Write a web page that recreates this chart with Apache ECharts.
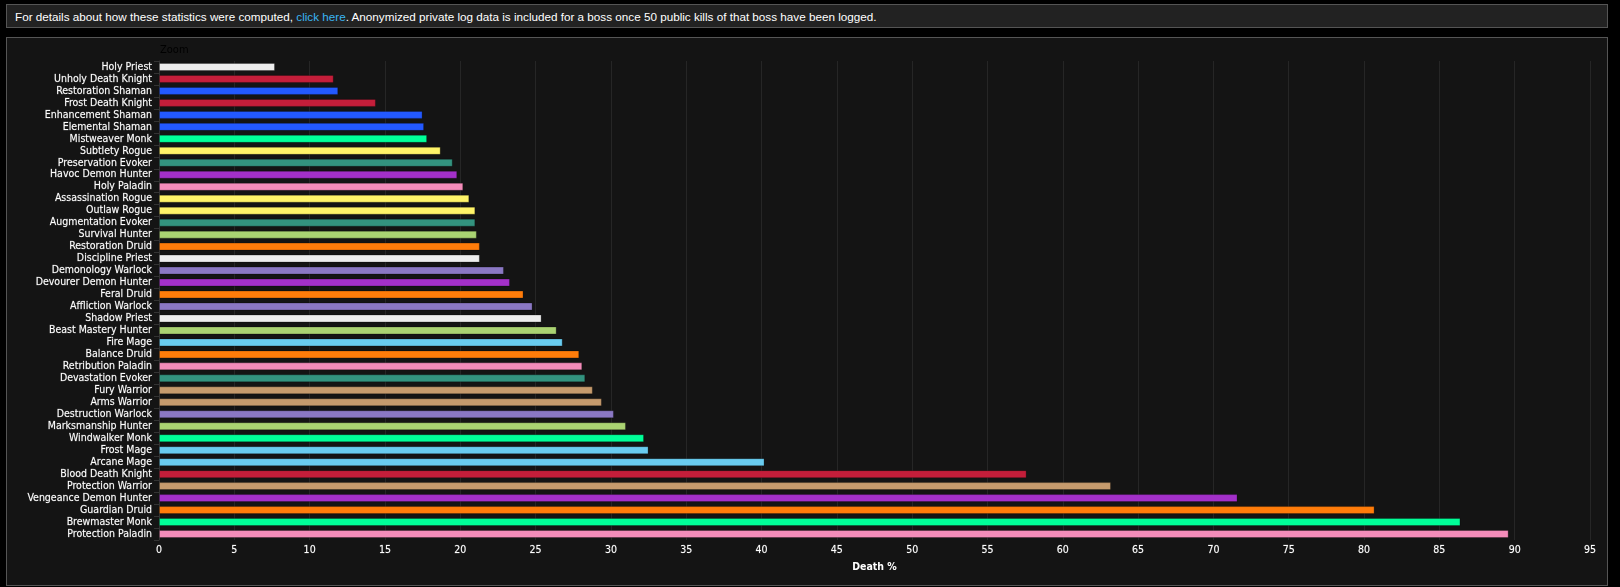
<!DOCTYPE html>
<html>
<head>
<meta charset="utf-8">
<style>
  html, body { margin: 0; padding: 0; background: #000; }
  #note {
    position: absolute; left: 6px; top: 4px; width: 1600px; height: 22px;
    background: #222; border: 1px solid #555;
    font: 11.7px/23px "Liberation Sans", Arial, sans-serif; color: #fff; white-space: nowrap;
  }
  #note span { margin-left: 8px; }
  #note a { color: #3ab4f2; text-decoration: none; }
  #panel {
    position: absolute; left: 6px; top: 37px; width: 1600px; height: 547px;
    background: #141414; border: 1px solid #555;
  }
  #chart { width: 1600px; height: 547px; }
</style>
<script src="https://cdn.jsdelivr.net/npm/echarts@6/dist/echarts.min.js"></script>
</head>
<body>
<div id="note"><span>For details about how these statistics were computed, <a href="#">click here</a>. Anonymized private log data is included for a boss once 50 public kills of that boss have been logged.</span></div>
<div id="panel"><div id="chart"></div></div>
<script>
const specs = [
  'Holy Priest', 'Unholy Death Knight', 'Restoration Shaman', 'Frost Death Knight',
  'Enhancement Shaman', 'Elemental Shaman', 'Mistweaver Monk', 'Subtlety Rogue',
  'Preservation Evoker', 'Havoc Demon Hunter', 'Holy Paladin', 'Assassination Rogue',
  'Outlaw Rogue', 'Augmentation Evoker', 'Survival Hunter', 'Restoration Druid',
  'Discipline Priest', 'Demonology Warlock', 'Devourer Demon Hunter', 'Feral Druid',
  'Affliction Warlock', 'Shadow Priest', 'Beast Mastery Hunter', 'Fire Mage',
  'Balance Druid', 'Retribution Paladin', 'Devastation Evoker', 'Fury Warrior',
  'Arms Warrior', 'Destruction Warlock', 'Marksmanship Hunter', 'Windwalker Monk',
  'Frost Mage', 'Arcane Mage', 'Blood Death Knight', 'Protection Warrior',
  'Vengeance Demon Hunter', 'Guardian Druid', 'Brewmaster Monk', 'Protection Paladin'
]
const deathPct = [
  7.7, 11.6, 11.9, 14.4,
  17.5, 17.6, 17.8, 18.7,
  19.5, 19.8, 20.2, 20.6,
  21.0, 21.0, 21.1, 21.3,
  21.3, 22.9, 23.3, 24.2,
  24.8, 25.4, 26.4, 26.8,
  27.9, 28.1, 28.3, 28.8,
  29.4, 30.2, 31.0, 32.2,
  32.5, 40.2, 57.6, 63.2,
  71.6, 80.7, 86.4, 89.6
]
const classColors = {
  'Priest': '#eeeeee', 'Death Knight': '#c41e3a', 'Shaman': '#2359ff', 'Monk': '#00ff98',
  'Rogue': '#fff468', 'Evoker': '#33937f', 'Demon Hunter': '#a330c9', 'Paladin': '#f48cba',
  'Hunter': '#aad372', 'Druid': '#ff7c0a', 'Warlock': '#8b78c4', 'Mage': '#69ccf0',
  'Warrior': '#c69b6d'
}

// the class name is whatever the spec name ends with
function classColor(spec) {
  let key = Object.keys(classColors).find(k => spec.endsWith(k))
  return classColors[key]
}

let chart = echarts.init(document.getElementById('chart'))
let labelFont = '"DejaVu Sans Condensed", "DejaVu Sans", sans-serif'
// a thin outline gives the labels the medium weight of the original
let labelWeight = { textBorderColor: 'rgba(255,255,255,0.4)', textBorderWidth: 0.4 }
chart.setOption({
  animation: false,
  backgroundColor: '#141414',
  title: {
    text: 'Zoom', left: 148, top: 2,
    textStyle: { color: '#000', fontSize: 11, fontWeight: 'normal', fontFamily: labelFont }
  },
  grid: { left: 152, right: 17, top: 23, bottom: 45 },
  xAxis: {
    type: 'value', min: 0, max: 95, interval: 5,
    name: 'Death %', nameLocation: 'middle', nameGap: 22,
    nameTextStyle: { color: '#fff', fontSize: 10.5, fontWeight: 'bold', fontFamily: labelFont },
    axisLine: { show: false },
    axisTick: { show: false },
    axisLabel: { color: '#fff', fontSize: 10.5, fontFamily: labelFont, margin: 5, ...labelWeight },
    splitLine: { show: true, lineStyle: { color: '#262626', width: 1 } }
  },
  yAxis: {
    type: 'category', inverse: true, data: specs,
    axisLine: { show: true, lineStyle: { color: '#333' } },
    axisTick: { show: true, length: 5, lineStyle: { color: '#333' } },
    axisLabel: { color: '#fff', fontSize: 10.5, fontFamily: labelFont, interval: 0, margin: 7, ...labelWeight }
  },
  series: [{
    type: 'bar',
    barWidth: 8,
    data: deathPct.map((v, i) => ({
      value: v,
      itemStyle: { color: classColor(specs[i]), borderColor: 'rgba(0,0,0,0.25)', borderWidth: 1 }
    }))
  }]
})
</script>
</body>
</html>
